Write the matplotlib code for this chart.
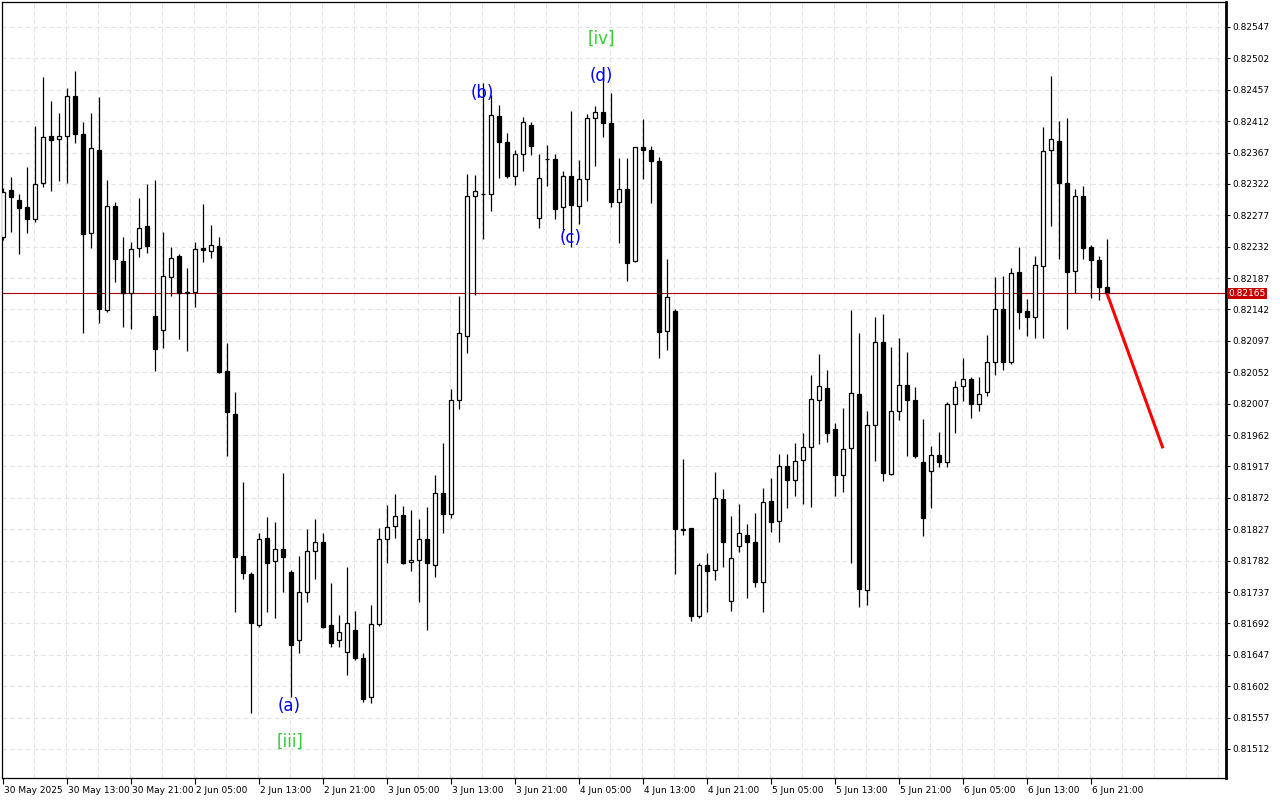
import numpy as np
import matplotlib
matplotlib.use("Agg")
import matplotlib.pyplot as plt
import matplotlib.transforms as mtransforms

plt.rcParams['font.family'] = ['DejaVu Sans']

# hourly OHLC, 30 May 05:00 .. 6 Jun 23:00
opens = [
    0.82246, 0.82313, 0.82299, 0.82289, 0.82272, 0.82323, 0.82391, 0.82386, 0.82391, 0.82448,
    0.82394, 0.82252, 0.82371, 0.82141, 0.82290, 0.82212, 0.82166, 0.82230, 0.82262, 0.82133,
    0.82113, 0.82189, 0.82219, 0.82167, 0.82167, 0.82230, 0.82226, 0.82233, 0.82054, 0.81992,
    0.81789, 0.81763, 0.81690, 0.81814, 0.81781, 0.81799, 0.81766, 0.81668, 0.81737, 0.81796,
    0.81809, 0.81690, 0.81668, 0.81651, 0.81683, 0.81642, 0.81586, 0.81691, 0.81813, 0.81832,
    0.81847, 0.81780, 0.81783, 0.81813, 0.81776, 0.81879, 0.81849, 0.82012, 0.82104, 0.82305,
    0.82307, 0.82308, 0.82419, 0.82382, 0.82333, 0.82365, 0.82406, 0.82273, 0.82358, 0.82358,
    0.82289, 0.82333, 0.82290, 0.82329, 0.82417, 0.82425, 0.82409, 0.82296, 0.82315, 0.82212,
    0.82375, 0.82371, 0.82355, 0.82111, 0.82140, 0.81827, 0.81829, 0.81703, 0.81776, 0.81769,
    0.81870, 0.81724, 0.81803, 0.81819, 0.81809, 0.81751, 0.81867, 0.81839, 0.81918, 0.81898,
    0.81926, 0.81945, 0.82012, 0.82029, 0.81971, 0.81905, 0.81943, 0.82021, 0.81740, 0.81976,
    0.82095, 0.81906, 0.81996, 0.82034, 0.82012, 0.81923, 0.81910, 0.81933, 0.81923, 0.82007,
    0.82032, 0.82042, 0.82007, 0.82024, 0.82067, 0.82143, 0.82067, 0.82196, 0.82140, 0.82131,
    0.82204, 0.82371, 0.82384, 0.82323, 0.82197, 0.82305, 0.82232, 0.82213, 0.82174]
highs = [
    0.82316, 0.82332, 0.82308, 0.82346, 0.82405, 0.82475, 0.82441, 0.82424, 0.82460, 0.82484,
    0.82411, 0.82424, 0.82447, 0.82328, 0.82296, 0.82246, 0.82239, 0.82302, 0.82322, 0.82328,
    0.82253, 0.82232, 0.82222, 0.82202, 0.82239, 0.82293, 0.82263, 0.82246, 0.82094, 0.82024,
    0.81895, 0.81766, 0.81822, 0.81845, 0.81837, 0.81908, 0.81769, 0.81789, 0.81827, 0.81842,
    0.81822, 0.81750, 0.81704, 0.81773, 0.81710, 0.81650, 0.81718, 0.81829, 0.81862, 0.81878,
    0.81860, 0.81855, 0.81842, 0.81859, 0.81905, 0.81951, 0.82028, 0.82161, 0.82336, 0.82335,
    0.82467, 0.82450, 0.82435, 0.82395, 0.82371, 0.82418, 0.82411, 0.82365, 0.82378, 0.82365,
    0.82341, 0.82427, 0.82356, 0.82422, 0.82434, 0.82490, 0.82452, 0.82359, 0.82359, 0.82375,
    0.82415, 0.82376, 0.82361, 0.82214, 0.82143, 0.81928, 0.81829, 0.81779, 0.81793, 0.81909,
    0.81885, 0.81846, 0.81863, 0.81834, 0.81850, 0.81886, 0.81900, 0.81935, 0.81935, 0.81951,
    0.81965, 0.82048, 0.82078, 0.82055, 0.81979, 0.82001, 0.82141, 0.82108, 0.81996, 0.82131,
    0.82136, 0.82088, 0.82101, 0.82081, 0.82031, 0.81985, 0.81946, 0.81966, 0.82009, 0.82040,
    0.82072, 0.82045, 0.82045, 0.82105, 0.82189, 0.82190, 0.82202, 0.82232, 0.82157, 0.82219,
    0.82404, 0.82477, 0.82412, 0.82417, 0.82315, 0.82319, 0.82234, 0.82219, 0.82243]
lows = [
    0.82242, 0.82253, 0.82222, 0.82252, 0.82267, 0.82318, 0.82312, 0.82326, 0.82323, 0.82381,
    0.82108, 0.82230, 0.82123, 0.82138, 0.82181, 0.82117, 0.82114, 0.82217, 0.82223, 0.82054,
    0.82087, 0.82161, 0.82100, 0.82083, 0.82146, 0.82210, 0.82216, 0.82051, 0.81932, 0.81708,
    0.81756, 0.81564, 0.81687, 0.81708, 0.81700, 0.81737, 0.81586, 0.81650, 0.81723, 0.81756,
    0.81685, 0.81658, 0.81658, 0.81618, 0.81640, 0.81579, 0.81578, 0.81688, 0.81779, 0.81814,
    0.81777, 0.81767, 0.81723, 0.81683, 0.81759, 0.81822, 0.81843, 0.81999, 0.82080, 0.82163,
    0.82243, 0.82283, 0.82331, 0.82331, 0.82320, 0.82341, 0.82363, 0.82259, 0.82319, 0.82272,
    0.82253, 0.82232, 0.82265, 0.82298, 0.82348, 0.82389, 0.82289, 0.82237, 0.82183, 0.82210,
    0.82329, 0.82295, 0.82072, 0.82084, 0.81763, 0.81819, 0.81695, 0.81700, 0.81708, 0.81754,
    0.81773, 0.81710, 0.81794, 0.81728, 0.81744, 0.81708, 0.81823, 0.81809, 0.81857, 0.81875,
    0.81863, 0.81859, 0.81949, 0.81952, 0.81875, 0.81880, 0.81779, 0.81716, 0.81718, 0.81925,
    0.81896, 0.81905, 0.81984, 0.81932, 0.81929, 0.81817, 0.81857, 0.81916, 0.81916, 0.81965,
    0.82011, 0.81986, 0.81996, 0.82018, 0.82048, 0.82055, 0.82064, 0.82114, 0.82104, 0.82101,
    0.82101, 0.82262, 0.82214, 0.82114, 0.82166, 0.82214, 0.82159, 0.82156, 0.82159]
closes = [
    0.82310, 0.82303, 0.82288, 0.82272, 0.82322, 0.82389, 0.82385, 0.82391, 0.82448, 0.82394,
    0.82250, 0.82374, 0.82143, 0.82290, 0.82214, 0.82166, 0.82229, 0.82259, 0.82233, 0.82085,
    0.82190, 0.82216, 0.82166, 0.82166, 0.82229, 0.82227, 0.82234, 0.82052, 0.81995, 0.81787,
    0.81764, 0.81693, 0.81813, 0.81779, 0.81799, 0.81787, 0.81661, 0.81737, 0.81796, 0.81809,
    0.81687, 0.81664, 0.81680, 0.81693, 0.81642, 0.81584, 0.81691, 0.81813, 0.81830, 0.81846,
    0.81779, 0.81783, 0.81813, 0.81779, 0.81879, 0.81849, 0.82012, 0.82108, 0.82305, 0.82312,
    0.82308, 0.82421, 0.82382, 0.82333, 0.82365, 0.82411, 0.82376, 0.82331, 0.82358, 0.82286,
    0.82333, 0.82292, 0.82329, 0.82417, 0.82425, 0.82409, 0.82296, 0.82315, 0.82209, 0.82375,
    0.82371, 0.82355, 0.82110, 0.82160, 0.81827, 0.81826, 0.81703, 0.81776, 0.81767, 0.81872,
    0.81809, 0.81786, 0.81822, 0.81809, 0.81751, 0.81866, 0.81837, 0.81918, 0.81898, 0.81925,
    0.81945, 0.82014, 0.82032, 0.81965, 0.81905, 0.81942, 0.82022, 0.81741, 0.81976, 0.82095,
    0.81908, 0.81996, 0.82034, 0.82012, 0.81932, 0.81843, 0.81933, 0.81923, 0.82007, 0.82031,
    0.82042, 0.82007, 0.82021, 0.82067, 0.82143, 0.82067, 0.82194, 0.82138, 0.82131, 0.82206,
    0.82369, 0.82386, 0.82323, 0.82196, 0.82305, 0.82230, 0.82213, 0.82174, 0.82165]

current_price = 0.82165
forecast_x = [138, 145]
forecast_y = [0.82165, 0.81943]

# wave labels: text, bar index, price, colour
wave_labels = [
    ("(a)", 35.75, 0.81574, "#0000ff"),
    ("[iii]", 35.9, 0.81522, "#33cc33"),
    ("(b)", 59.9, 0.82452, "#0000ff"),
    ("(c)", 70.9, 0.82245, "#0000ff"),
    ("(d)", 74.75, 0.82477, "#0000ff"),
    ("[iv]", 74.75, 0.82530, "#33cc33"),
]

time_tick_idx = list(range(0, 137, 8))
time_tick_labels = ["30 May 2025", "30 May 13:00", "30 May 21:00", "2 Jun 05:00", "2 Jun 13:00",
                    "2 Jun 21:00", "3 Jun 05:00", "3 Jun 13:00", "3 Jun 21:00", "4 Jun 05:00",
                    "4 Jun 13:00", "4 Jun 21:00", "5 Jun 05:00", "5 Jun 13:00", "5 Jun 21:00",
                    "6 Jun 05:00", "6 Jun 13:00", "6 Jun 21:00"]
price_tick_labels = ["0.82547", "0.82502", "0.82457", "0.82412", "0.82367", "0.82322",
                     "0.82277", "0.82232", "0.82187", "0.82142", "0.82097", "0.82052",
                     "0.82007", "0.81962", "0.81917", "0.81872", "0.81827", "0.81782",
                     "0.81737", "0.81692", "0.81647", "0.81602", "0.81557", "0.81512"]

o = np.array(opens); h = np.array(highs); l = np.array(lows); c = np.array(closes)
x = np.arange(len(o))
up = c >= o

fig = plt.figure(figsize=(12.8, 8), dpi=100)
ax = fig.add_axes([2/1280, 22/800, 1224/1280, 776/800])

# grid
grid_style = dict(color="#e3e3e3", linestyle=(0, (4, 3)), linewidth=0.8, zorder=0)
for v in [float(t) for t in price_tick_labels]:
    ax.axhline(v, **grid_style)
for gx in range(4, 153, 4):
    ax.axvline(gx - 0.08, **grid_style)

# candles
ax.vlines(x, l, h, color="black", linewidth=0.9, zorder=2)
bottoms = np.minimum(o, c)
heights = np.abs(c - o)
ax.bar(x[up], heights[up], bottom=bottoms[up], width=0.62, color="white",
       edgecolor="black", linewidth=0.9, zorder=3)
ax.bar(x[~up], heights[~up], bottom=bottoms[~up], width=0.62, color="black",
       edgecolor="black", linewidth=0.9, zorder=3)

# current price line and forecast
ax.axhline(current_price, color="#b00000", linewidth=0.8, zorder=1)
ax.plot(forecast_x, forecast_y, color="#ff0000", linewidth=2.2, zorder=4,
        solid_capstyle="butt")

for txt, xi, yi, col in wave_labels:
    ax.text(xi, yi, txt, color=col, fontsize=12, ha="center", va="center", zorder=5)

ax.set_xlim(-0.125, 152.875)
ax.set_ylim(0.814704, 0.825828)

ax.yaxis.tick_right()
ax.set_yticks([float(t) for t in price_tick_labels])
ax.set_yticklabels(price_tick_labels)
ax.set_xticks(time_tick_idx)
ax.set_xticklabels(time_tick_labels, ha="left")
ax.tick_params(axis="y", direction="out", length=3, width=0.8, pad=1.5, labelsize=6.5)
ax.tick_params(axis="x", direction="out", length=4, width=0.8, pad=1.5, labelsize=6.5)
for lab in ax.get_xticklabels():
    lab.set_transform(lab.get_transform() + mtransforms.ScaledTranslation(1.5/100, 0, fig.dpi_scale_trans))

for s in ["top", "left", "bottom"]:
    ax.spines[s].set_linewidth(0.9)
ax.spines["right"].set_linewidth(2.0)

# current price tag on the price axis
trans = mtransforms.blended_transform_factory(ax.transAxes, ax.transData)
ax.text(1.0016, current_price, "0.82165", transform=trans, color="white", fontsize=6.5,
        ha="left", va="center", clip_on=False,
        bbox=dict(boxstyle="square,pad=0.15", facecolor="#c80000", edgecolor="none"))

fig.savefig("out.png", dpi=100)
